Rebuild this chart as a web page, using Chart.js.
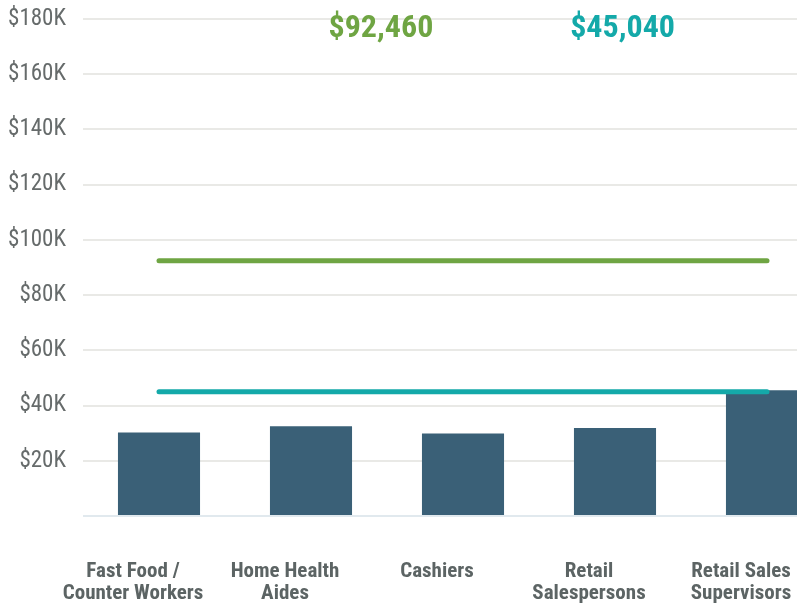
<!DOCTYPE html>
<html>
<head>
<meta charset="utf-8">
<script src="https://cdn.jsdelivr.net/npm/chart.js@4.4.1/dist/chart.umd.min.js"></script>
<style>
  html, body { margin: 0; padding: 0; background: #fff; overflow: hidden; }
  #wrap { width: 797px; height: 603px; overflow: hidden; position: relative; }
  #wrap canvas { position: absolute; left: 0; top: 0; }
</style>
</head>
<body>
<div id="wrap"><canvas id="wageChart" width="843" height="616"></canvas></div>
<script>
// --- Data ---
const categories = [
    ['Fast Food /', 'Counter Workers'],
    ['Home Health', 'Aides'],
    ['Cashiers'],
    ['Retail', 'Salespersons'],
    ['Retail Sales', 'Supervisors']
];
const medianWages = [30200, 32500, 29900, 31900, 45500];
const livingWageValue = 92460;
const medianAllValue = 45040;
const livingWageLine = categories.map(() => livingWageValue);
const medianAllLine = categories.map(() => medianAllValue);
const yTicks = [0, 20000, 40000, 60000, 80000, 100000, 120000, 140000, 160000, 180000];

// --- Styles ---
const barColor = '#3a6077';
const greenColor = '#6fa543';
const tealColor = '#14a9a9';
const tickColor = '#666b6b';
const labelColor = '#5c6464';
const condensed = "'Roboto Condensed', 'Liberation Sans Narrow', 'Arial Narrow', Roboto, sans-serif";

function money(v) {
    return '$' + v.toLocaleString('en-US');
}

// draws the two headline values above the plot
const headlinePlugin = {
    id: 'headlines',
    afterDatasetsDraw(chart) {
        const ctx = chart.ctx;
        const x = chart.scales.x;
        const y = chart.scales.y;
        const top = y.getPixelForValue(yTicks[yTicks.length - 1]);
        const items = [
            { text: money(livingWageValue), color: greenColor, at: 1.46 },
            { text: money(medianAllValue), color: tealColor, at: 3.05 }
        ];
        ctx.save();
        ctx.font = 'bold 32px ' + condensed;
        ctx.textAlign = 'center';
        ctx.textBaseline = 'alphabetic';
        items.forEach(it => {
            ctx.fillStyle = it.color;
            ctx.fillText(it.text, x.getPixelForValue(it.at), top + 18);
        });
        ctx.restore();
    }
};

const canvas = document.getElementById('wageChart');
const chart = new Chart(canvas.getContext('2d'), {
    type: 'bar',
    data: {
        labels: categories,
        datasets: [
            {
                type: 'line',
                label: 'Living wage',
                data: livingWageLine,
                borderColor: greenColor,
                borderWidth: 5,
                borderCapStyle: 'round',
                pointRadius: 0,
                fill: false,
                order: 0
            },
            {
                type: 'line',
                label: 'Median wage',
                data: medianAllLine,
                borderColor: tealColor,
                borderWidth: 5,
                borderCapStyle: 'round',
                pointRadius: 0,
                fill: false,
                order: 0
            },
            {
                type: 'bar',
                label: 'Median wage by occupation',
                data: medianWages,
                backgroundColor: barColor,
                barPercentage: 0.54,
                categoryPercentage: 1,
                order: 1
            }
        ]
    },
    options: {
        responsive: false,
        animation: false,
        layout: { padding: { top: 19, right: 0, bottom: 0, left: 0 } },
        plugins: {
            legend: { display: false },
            tooltip: { enabled: false }
        },
        scales: {
            x: {
                grid: { display: false, drawTicks: false },
                border: { display: false },
                afterFit: (scale) => {
                    scale.height = 100;
                    scale.paddingLeft = 0;
                    scale.paddingRight = 0;
                },
                ticks: {
                    color: labelColor,
                    font: { family: condensed, size: 21, weight: 'bold', lineHeight: 1.05 },
                    padding: 45,
                    labelOffset: -26,
                    maxRotation: 0,
                    autoSkip: false
                }
            },
            y: {
                min: 0,
                max: 180000,
                afterFit: (scale) => {
                    scale.width = 83;
                    scale.paddingTop = 0;
                    scale.paddingBottom = 0;
                },
                afterBuildTicks: (scale) => { scale.ticks = yTicks.map(v => ({ value: v })); },
                border: { display: false },
                grid: {
                    drawTicks: false,
                    lineWidth: 2,
                    color: (c) => c.tick && c.tick.value === 0 ? '#e1e9ee' : '#e9e9e6'
                },
                ticks: {
                    color: tickColor,
                    font: { family: condensed, size: 23 },
                    padding: 17,
                    callback: (v) => v === 0 ? '' : '$' + (v / 1000) + 'K'
                }
            }
        }
    },
    plugins: [headlinePlugin]
});
</script>
</body>
</html>
